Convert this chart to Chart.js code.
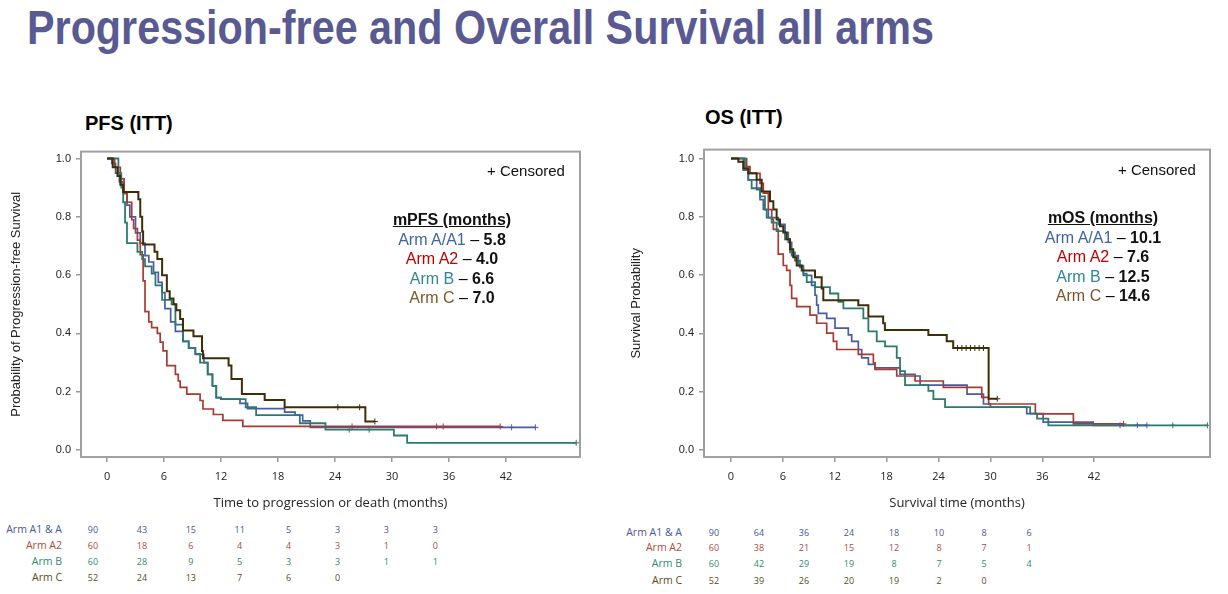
<!DOCTYPE html>
<html><head><meta charset="utf-8">
<script src="https://cdn.jsdelivr.net/npm/chart.js@4"></script>
<style>
html,body{margin:0;padding:0;background:#fff}
body{width:1228px;height:594px;position:relative;overflow:hidden;font-family:"Liberation Sans",Arial,sans-serif}
.abs{position:absolute;white-space:nowrap}
#title{left:27px;top:0px;font-size:48px;font-weight:bold;color:#5a5a92;transform-origin:0 0}
.sub{font-size:20px;font-weight:bold;color:#000}
.cens{font-size:15px;color:#111}
.leg{font-size:16px;text-align:center;line-height:19.5px}
.leg .h{font-weight:bold;text-decoration:underline;color:#111}
.leg b{color:#111}
.risk{font-family:"Open Sans","Liberation Sans",sans-serif}
</style></head><body>
<div id="title" class="abs">Progression-free and Overall Survival all arms</div>
<div class="abs sub" style="left:85px;top:112px">PFS (ITT)</div>
<div class="abs sub" style="left:705px;top:106px">OS (ITT)</div>
<div class="abs" style="left:0;top:140px;width:600px;height:380px"><canvas id="pfs" width="600" height="380"></canvas></div>
<div class="abs" style="left:620px;top:138px;width:608px;height:382px"><canvas id="os" width="608" height="382"></canvas></div>
<div id="pfsLeg" class="abs leg" style="left:352px;top:210px;width:200px"></div>
<div id="osLeg" class="abs leg" style="left:1003px;top:208px;width:200px"></div>
<div class="abs cens" style="left:487px;top:162px">+ Censored</div>
<div class="abs cens" style="left:1118px;top:161px">+ Censored</div>
<div id="riskPfs"></div>
<div id="riskOs"></div>
<script>
// ---------- data ----------
const monthTicks = [0, 6, 12, 18, 24, 30, 36, 42];
const probTicks = [0, 0.2, 0.4, 0.6, 0.8, 1.0];
const armLegendNames = ['Arm A/A1', 'Arm A2', 'Arm B', 'Arm C'];
const armRiskNames = ['Arm A1 & A', 'Arm A2', 'Arm B', 'Arm C'];
const pfsMedians = ['5.8', '4.0', '6.6', '7.0'];
const osMedians = ['10.1', '7.6', '12.5', '14.6'];

// PFS Kaplan-Meier steps (time in months, survival after step)
const pfsA_t = [0,0.5,0.9,1.3,1.7,2.1,2.4,3.0,3.5,4.0,4.4,4.9,5.4,5.8,6.1,6.7,7.2,8.0,8.6,9.3,10.2,10.6,11.1,11.5,12.0,14.0,14.8,18.7,19.8,20.6,21.4,45.1];
const pfsA_s = [1,0.983,0.95,0.92,0.88,0.84,0.80,0.745,0.71,0.667,0.645,0.61,0.575,0.54,0.485,0.44,0.407,0.373,0.35,0.328,0.30,0.26,0.22,0.18,0.175,0.16,0.142,0.13,0.12,0.10,0.078,0.078];
const pfsA2_t = [0,0.8,1.4,1.8,2.1,2.6,2.8,3.2,3.5,3.8,4.0,4.4,4.7,5.3,5.6,5.9,6.3,7.2,7.5,7.7,8.4,9.8,10.1,11.2,12.2,14.3,41.4];
const pfsA2_s = [1,0.97,0.93,0.88,0.85,0.79,0.76,0.72,0.67,0.58,0.475,0.44,0.42,0.40,0.37,0.34,0.29,0.26,0.237,0.215,0.192,0.17,0.141,0.122,0.102,0.081,0.081];
const pfsB_t = [0,1.2,1.5,1.7,1.9,2.1,3.2,3.7,4.0,4.7,5.1,5.8,6.8,7.2,8.0,8.6,9.3,9.8,10.6,11.1,11.5,12.0,14.6,15.7,20.3,23.0,30.2,31.6,49.4];
const pfsB_s = [1,0.95,0.90,0.85,0.78,0.71,0.68,0.655,0.63,0.605,0.565,0.515,0.50,0.43,0.373,0.35,0.33,0.30,0.26,0.22,0.18,0.175,0.147,0.12,0.092,0.07,0.05,0.025,0.025];
const pfsC_t = [0,0.6,1.1,1.4,1.7,3.3,3.5,3.7,3.8,5.0,5.3,5.8,6.3,6.6,7.0,7.3,7.7,8.0,9.1,10.0,10.1,12.8,13.1,14.2,16.6,18.7,27.2,28.2];
const pfsC_s = [1,0.97,0.94,0.91,0.885,0.86,0.80,0.75,0.705,0.68,0.655,0.60,0.545,0.52,0.50,0.48,0.45,0.41,0.39,0.34,0.315,0.29,0.244,0.192,0.172,0.147,0.098,0.098];
const pfsA_cens = [42.6, 45.1];
const pfsA2_cens = [25.8, 34.7, 35.4, 41.4];
const pfsB_cens = [25.5, 27.6, 49.4];
const pfsC_cens = [24.3, 26.6, 28.2];

// OS Kaplan-Meier steps
const osA_t = [0,1.43,2.0,2.97,3.36,3.74,4.32,5.47,6.25,6.63,7.02,7.79,8.37,9.33,9.72,9.91,10.1,11.07,12.03,13.57,13.96,14.73,15.12,15.89,16.66,19.55,21.29,21.87,27.3,29.2,30.0,34.2,36.1,41.9,48.1];
const osA_s = [1,0.96,0.927,0.893,0.859,0.825,0.797,0.774,0.746,0.712,0.667,0.633,0.599,0.565,0.531,0.497,0.469,0.452,0.418,0.395,0.373,0.345,0.316,0.294,0.282,0.26,0.254,0.223,0.192,0.158,0.147,0.125,0.096,0.085,0.085];
const osA2_t = [0,1.81,2.2,3.36,3.74,4.32,4.71,4.9,5.47,6.05,6.44,6.83,7.02,7.6,9.14,9.91,11.07,11.84,12.23,14.73,16.47,16.66,19.17,21.29,24.56,29.0,29.8,35.2,39.6,45.4];
const osA2_s = [1,0.972,0.949,0.915,0.881,0.825,0.791,0.757,0.672,0.633,0.616,0.565,0.52,0.492,0.463,0.435,0.401,0.373,0.345,0.328,0.299,0.277,0.254,0.237,0.215,0.181,0.158,0.124,0.09,0.09];
const osB_t = [0,1.62,2.0,2.39,3.36,3.93,4.13,4.71,5.28,6.25,6.83,7.4,7.98,8.37,8.76,9.72,11.45,12.42,13.0,15.31,15.89,16.86,17.82,19.17,19.55,20.13,22.83,23.41,24.76,34.6,35.4,36.7,55.1];
const osB_s = [1,0.966,0.927,0.898,0.87,0.825,0.797,0.78,0.751,0.723,0.678,0.65,0.627,0.605,0.576,0.559,0.537,0.508,0.486,0.452,0.407,0.373,0.356,0.316,0.271,0.223,0.203,0.175,0.147,0.125,0.108,0.085,0.085];
const osC_t = [0,0.85,1.43,2.0,2.97,3.55,4.51,4.9,5.28,5.67,6.05,6.44,6.83,7.2,7.6,8.18,9.72,10.49,10.68,14.73,15.89,17.6,17.8,22.83,24.95,25.7,29.8,30.8];
const osC_s = [1,0.989,0.966,0.949,0.927,0.887,0.853,0.825,0.791,0.768,0.746,0.723,0.689,0.661,0.633,0.616,0.593,0.554,0.514,0.497,0.458,0.435,0.412,0.395,0.373,0.35,0.176,0.176];
const osA_cens = [45.0, 47.0, 48.1];
const osA2_cens = [45.4];
const osB_cens = [51.1, 55.1];
const osC_cens = [26.2, 26.7, 27.2, 27.7, 28.2, 28.7, 29.2, 30.8];

// numbers at risk
const pfsRiskA = [90,43,15,11,5,3,3,3];
const pfsRiskA2 = [60,18,6,4,4,3,1,0];
const pfsRiskB = [60,28,9,5,3,3,1,1];
const pfsRiskC = [52,24,13,7,6,0];
const osRiskA = [90,64,36,24,18,10,8,6];
const osRiskA2 = [60,38,21,15,12,8,7,1];
const osRiskB = [60,42,29,19,8,7,5,4];
const osRiskC = [52,39,26,20,19,2,0];

// ---------- styling ----------
const lineColors = ['#4b5aa6', '#a83a30', '#2a7b6c', '#3f2d08'];
const lineWidths = [1.7, 1.7, 1.8, 2.0];
const legendColors = ['#3f63a0', '#c00000', '#31849b', '#7f5526'];
const riskColors = ['#4a55a0', '#b04a3c', '#2e8b70', '#5c4a1a'];
const FONT = '"Liberation Sans", Arial, sans-serif';
const TICKFONT = '"Open Sans", "Liberation Sans", sans-serif';

// title width fit
(function(){
  const t = document.getElementById('title');
  const w = t.getBoundingClientRect().width;
  t.style.transform = 'scaleX(' + (907 / w) + ')';
})();

function survAt(ts, ss, t) {
  let v = ss[0];
  for (let i = 0; i < ts.length; i++) { if (ts[i] <= t) v = ss[i]; }
  return v;
}
function curve(ts, ss) { return ts.map((t, i) => ({x: t, y: ss[i]})); }
function censPts(ts, ss, cs) { return cs.map(c => ({x: c, y: survAt(ts, ss, c)})); }

const boxPlugin = {
  id: 'box',
  afterDraw(chart) {
    const a = chart.chartArea, ctx = chart.ctx;
    ctx.save();
    ctx.strokeStyle = '#a0a0a0';
    ctx.lineWidth = 2;
    ctx.strokeRect(a.left, a.top, a.right - a.left, a.bottom - a.top);
    ctx.restore();
  }
};

function makeChart(id, curves, yTitle, xTitle, xMin, xMax, yMax, yAxisW, xAxisH, pad) {
  const datasets = [];
  curves.forEach((c, i) => {
    datasets.push({
      data: curve(c.t, c.s), borderColor: lineColors[i], borderWidth: lineWidths[i],
      stepped: true, pointRadius: 0, fill: false, order: 4 - i
    });
  });
  curves.forEach((c, i) => {
    datasets.push({
      data: censPts(c.t, c.s, c.c), showLine: false, pointStyle: 'cross',
      pointRadius: 3, borderColor: lineColors[i], borderWidth: 1, pointHoverRadius: 3
    });
  });
  return new Chart(document.getElementById(id), {
    type: 'line',
    data: {datasets},
    plugins: [boxPlugin],
    options: {
      responsive: false, animation: false, events: [],
      layout: {padding: pad},
      plugins: {legend: {display: false}, tooltip: {enabled: false}},
      scales: {
        x: {
          type: 'linear', min: xMin, max: xMax,
          afterBuildTicks: s => { s.ticks = monthTicks.map(v => ({value: v})); },
          afterFit: s => { s.height = xAxisH; },
          grid: {display: true, drawOnChartArea: false, drawTicks: true, tickLength: 5, color: '#999', lineWidth: 1.5},
          border: {display: false},
          ticks: {color: '#222', font: {family: TICKFONT, size: 11}, padding: 8, maxRotation: 0, autoSkip: false},
          title: {display: true, text: xTitle, color: '#222', font: {family: TICKFONT, size: 13}, padding: {top: 6, bottom: 0}}
        },
        y: {
          type: 'linear', min: -0.0237, max: yMax,
          afterBuildTicks: s => { s.ticks = probTicks.map(v => ({value: v})); },
          afterFit: s => { s.width = yAxisW; },
          grid: {display: true, drawOnChartArea: false, drawTicks: true, tickLength: 5, color: '#999', lineWidth: 1.5},
          border: {display: false},
          ticks: {color: '#222', font: {family: FONT, size: 11}, padding: 5, callback: v => v.toFixed(1)},
          title: {display: true, text: yTitle, color: '#222', font: {family: FONT, size: 13}, padding: {top: 9, bottom: 4}}
        }
      }
    }
  });
}

makeChart('pfs', [
  {t: pfsA_t, s: pfsA_s, c: pfsA_cens},
  {t: pfsA2_t, s: pfsA2_s, c: pfsA2_cens},
  {t: pfsB_t, s: pfsB_s, c: pfsB_cens},
  {t: pfsC_t, s: pfsC_s, c: pfsC_cens}
], 'Probability of Progression-free Survival', 'Time to progression or death (months)',
  -2.74, 49.8, 1.0237, 81, 54, {left: 0, right: 20, top: 8, bottom: 9});

makeChart('os', [
  {t: osA_t, s: osA_s, c: osA_cens},
  {t: osA2_t, s: osA2_s, c: osA2_cens},
  {t: osB_t, s: osB_s, c: osB_cens},
  {t: osC_t, s: osC_s, c: osC_cens}
], 'Survival Probability', 'Survival time (months)',
  -3.12, 55.4, 1.0305, 84, 54, {left: 0, right: 18, top: 8, bottom: 9});

// legends
function fillLegend(id, header, meds) {
  const el = document.getElementById(id);
  let h = '<div class="h">' + header + '</div>';
  armLegendNames.forEach((n, i) => {
    h += '<div><span style="color:' + legendColors[i] + '">' + n + '</span> – <b>' + meds[i] + '</b></div>';
  });
  el.innerHTML = h;
}
fillLegend('pfsLeg', 'mPFS (months)', pfsMedians);
fillLegend('osLeg', 'mOS (months)', osMedians);

// risk tables
function riskTable(id, rows, labelRight, x0, dx, ys) {
  const el = document.getElementById(id);
  let h = '';
  rows.forEach((r, i) => {
    h += '<div class="abs risk" style="right:' + (1228 - labelRight) + 'px;top:' + (ys[i] - 8) + 'px;font-size:10.5px;color:' + riskColors[i] + '">' + armRiskNames[i] + '</div>';
    r.forEach((v, j) => {
      h += '<div class="abs risk" style="left:' + (x0 + j * dx - 15) + 'px;width:30px;text-align:center;top:' + (ys[i] - 7) + 'px;font-size:9px;color:' + riskColors[i] + '">' + v + '</div>';
    });
  });
  el.innerHTML = h;
}
riskTable('riskPfs', [pfsRiskA, pfsRiskA2, pfsRiskB, pfsRiskC], 62, 93, 48.9, [530, 546, 562, 578]);
riskTable('riskOs', [osRiskA, osRiskA2, osRiskB, osRiskC], 682, 714, 45, [533, 548, 564, 581]);
</script>
</body></html>
